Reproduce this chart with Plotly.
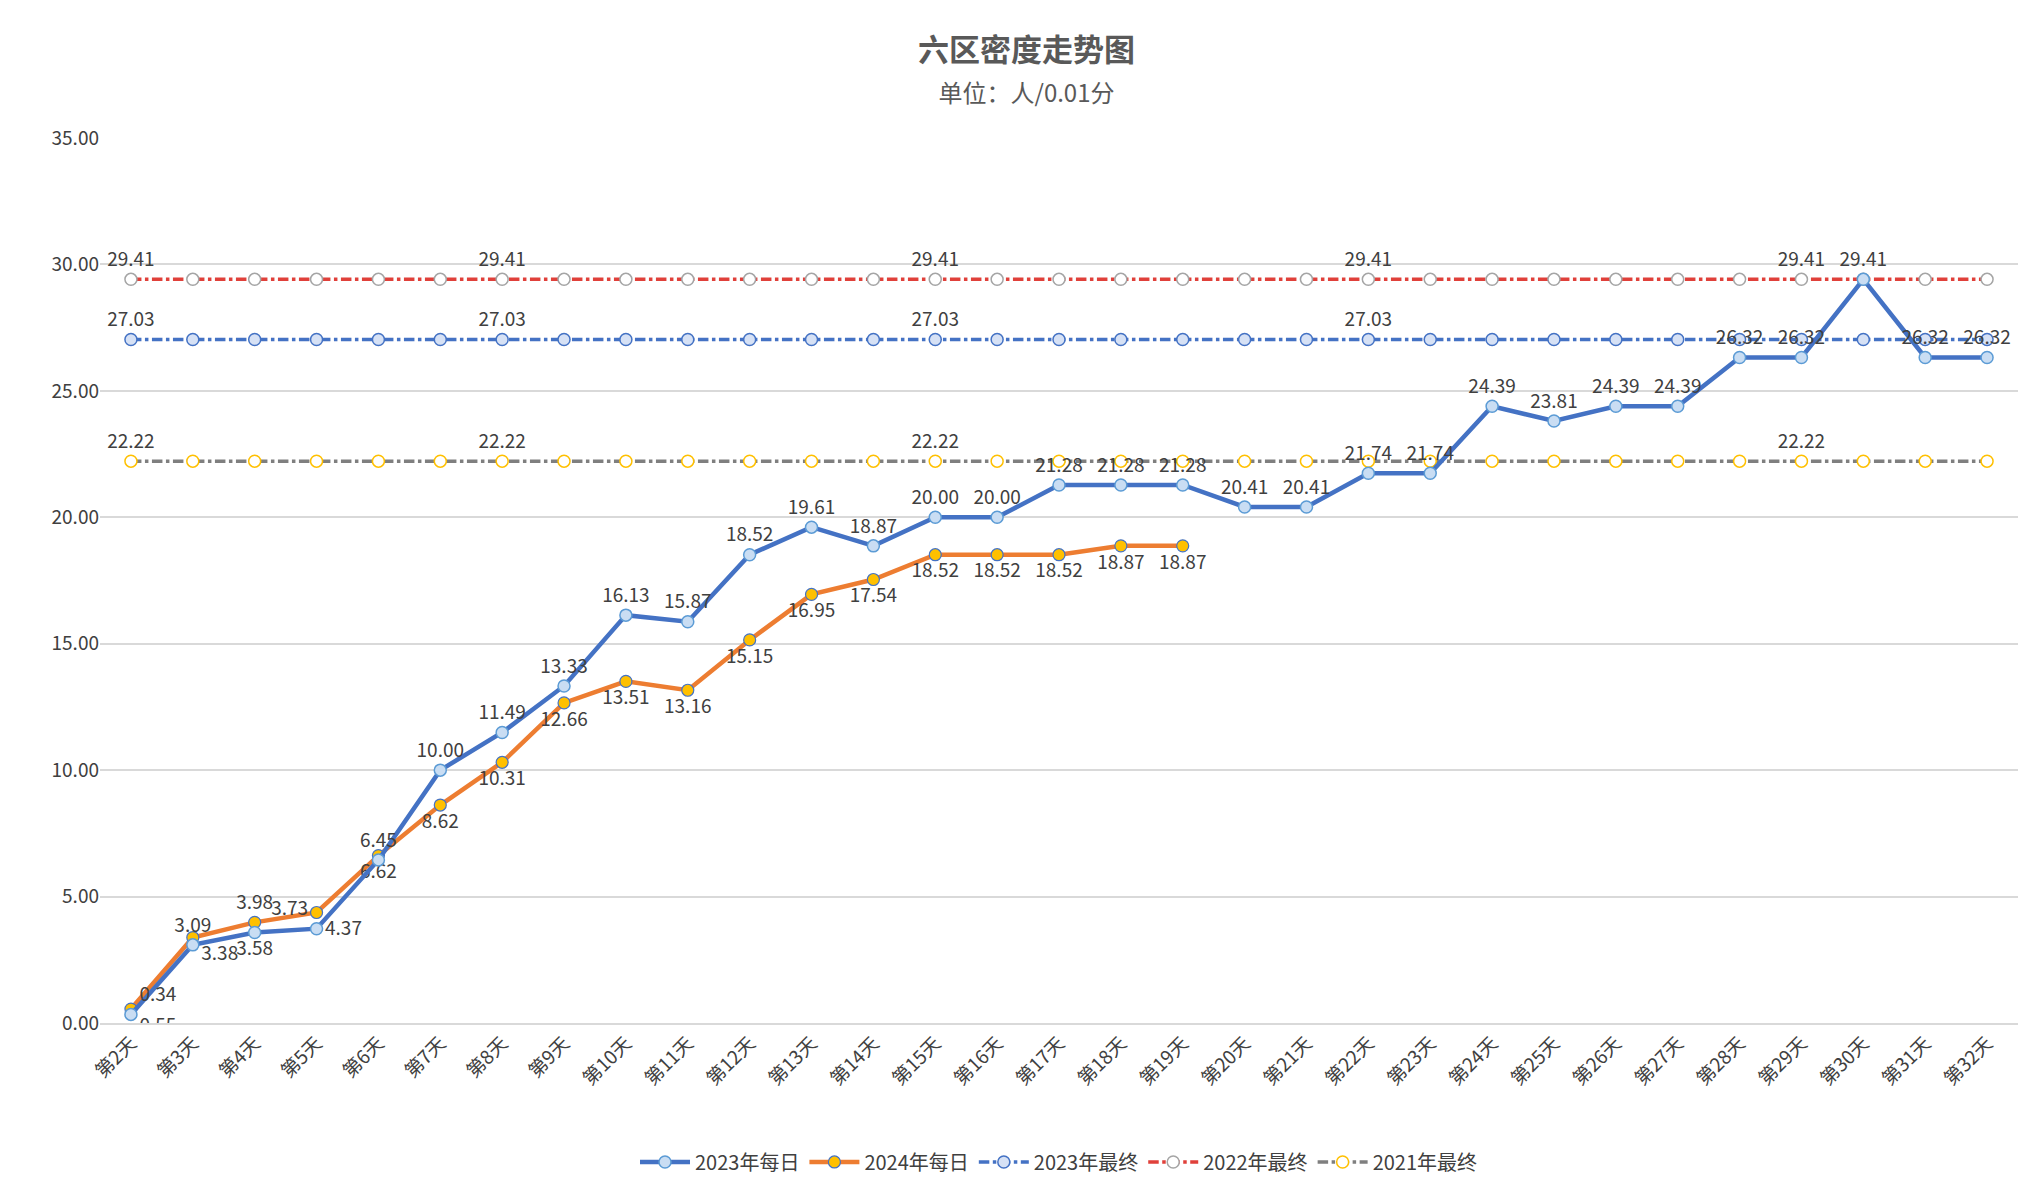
import plotly.graph_objects as go

days = [f"第{i}天" for i in range(2, 33)]
y2023 = [0.34, 3.09, 3.58, 3.73, 6.45, 10.00, 11.49, 13.33, 16.13, 15.87, 18.52, 19.61, 18.87, 20.00, 20.00,
         21.28, 21.28, 21.28, 20.41, 20.41, 21.74, 21.74, 24.39, 23.81, 24.39, 24.39, 26.32, 26.32, 29.41, 26.32, 26.32]
y2024 = [0.55, 3.38, 3.98, 4.37, 6.62, 8.62, 10.31, 12.66, 13.51, 13.16, 15.15, 16.95, 17.54, 18.52, 18.52,
         18.52, 18.87, 18.87]
final2023 = 27.03
final2022 = 29.41
final2021 = 22.22
label_idx_2023f = [0, 6, 13, 20]
label_idx_2022 = [0, 6, 13, 20, 27]
label_idx_2021 = [0, 6, 13, 27]

pos2023 = ["top center"] * len(y2023)
pos2023[2] = "bottom center"
pos2023[3] = "top left"
pos2023[0] = "top right"
pos2024 = ["bottom center"] * len(y2024)
pos2024[2] = "top center"
pos2024[3] = "bottom right"
pos2024[0] = "bottom right"
pos2024[1] = "bottom right"

TXT = "#404040"
FONT = "Noto Sans CJK SC, Noto Sans, sans-serif"
n = len(days)

def lbl(v, idx):
    return [f"{v:.2f}" if i in idx else "" for i in range(n)]

fig = go.Figure()
fig.add_trace(go.Scatter(x=days, y=[final2022] * n, name="2022年最终", mode="lines+markers+text",
    line=dict(color="#E0403A", width=3.5, dash="dashdot"),
    marker=dict(size=12, color="white", line=dict(color="#A5A5A5", width=1.5)),
    text=lbl(final2022, label_idx_2022), textposition="top center",
    textfont=dict(size=19, color=TXT)))
fig.add_trace(go.Scatter(x=days, y=[final2021] * n, name="2021年最终", mode="lines+markers+text",
    line=dict(color="#7F7F7F", width=3.5, dash="dashdot"),
    marker=dict(size=12, color="white", line=dict(color="#FFC000", width=1.5)),
    text=lbl(final2021, label_idx_2021), textposition="top center",
    textfont=dict(size=19, color=TXT)))
fig.add_trace(go.Scatter(x=days, y=[final2023] * n, name="2023年最终", mode="lines+markers+text",
    line=dict(color="#4472C4", width=3.5, dash="dashdot"),
    marker=dict(size=12, color="#D6E1F5", line=dict(color="#4472C4", width=1.5)),
    text=lbl(final2023, label_idx_2023f), textposition="top center",
    textfont=dict(size=19, color=TXT)))
fig.add_trace(go.Scatter(x=days[:len(y2024)], y=y2024, name="2024年每日", mode="lines+markers+text",
    line=dict(color="#ED7D31", width=4.5),
    marker=dict(size=12, color="#FFC000", line=dict(color="#4472C4", width=1.2)),
    text=[f"{v:.2f}" for v in y2024], textposition=pos2024,
    textfont=dict(size=19, color=TXT)))
fig.add_trace(go.Scatter(x=days, y=y2023, name="2023年每日", mode="lines+markers+text",
    line=dict(color="#4472C4", width=4.5),
    marker=dict(size=12, color="#C9DDF3", line=dict(color="#5B9BD5", width=1.5)),
    text=[f"{v:.2f}" for v in y2023], textposition=pos2023,
    textfont=dict(size=19, color=TXT)))

fig.update_layout(
    width=2037, height=1185,
    margin=dict(l=92, r=27, t=130, b=151),
    paper_bgcolor="white", plot_bgcolor="white",
    font=dict(family=FONT, color=TXT, size=19),
    title=dict(text="<b>六区密度走势图</b><br><span style='font-size:24px;color:#595959'>单位：人/0.01分</span>",
               x=0.5, xanchor="center", y=0.955, yanchor="top", font=dict(size=31, color="#595959")),
    xaxis=dict(range=[-0.5, n - 0.5], tickangle=-45, showgrid=False, showline=True,
               linecolor="#D9D9D9", linewidth=1.5, tickfont=dict(size=19, color=TXT)),
    yaxis=dict(range=[0, 35], dtick=5, tickformat=".2f", gridcolor="#D9D9D9", gridwidth=1.5,
               zeroline=False, showline=False, tickfont=dict(size=19, color=TXT)),
    legend=dict(orientation="h", x=0.5, xanchor="center", y=-0.135, yanchor="top",
                traceorder="normal", font=dict(size=20, color=TXT), itemwidth=50),
    showlegend=True,
)
order = ["2023年每日", "2024年每日", "2023年最终", "2022年最终", "2021年最终"]
for t in fig.data:
    t.legendrank = order.index(t.name)

fig.write_html("out.html")
